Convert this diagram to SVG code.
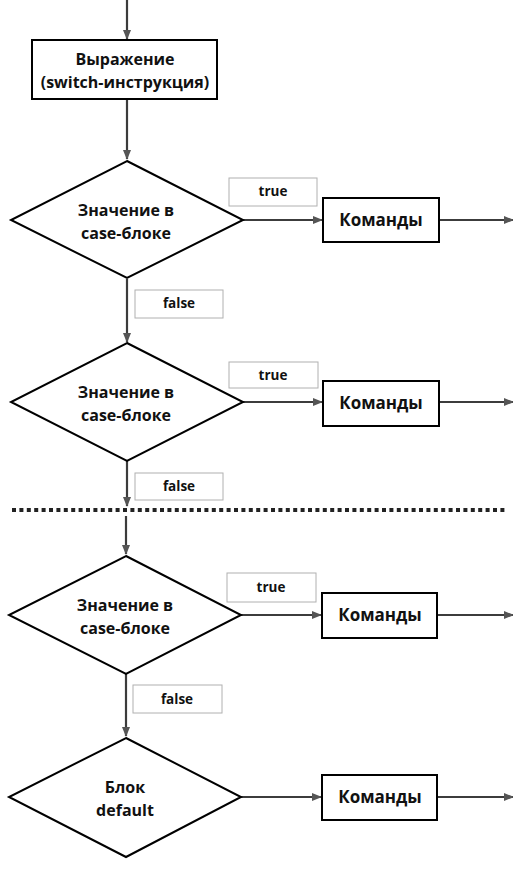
<svg xmlns="http://www.w3.org/2000/svg" width="513" height="886" viewBox="0 0 513 886">
<style>
.node{fill:#fff;stroke:#000;stroke-width:2}
.lbl{fill:#fff;stroke:#b0b0b0;stroke-width:1}
.t{font-family:"Open Sans","Liberation Sans",sans-serif;font-weight:bold;font-size:16px;fill:#111;text-anchor:middle}
.k{font-size:17px}
.s{font-family:"Open Sans","Liberation Sans",sans-serif;font-weight:bold;font-size:13.5px;fill:#111;text-anchor:middle}
.c{fill:none;stroke:#3c3c3c;stroke-width:2.2}
</style>
<defs>
<marker id="ah" markerWidth="10" markerHeight="8" refX="9" refY="4" orient="auto" markerUnits="userSpaceOnUse">
<path d="M0,0 L10,4 L0,8 Z" fill="#555"/>
</marker>
</defs>
<rect width="513" height="886" fill="#fff"/>
<g id="connectors">
<line class="c" x1="127" y1="0" x2="127" y2="39" marker-end="url(#ah)"/>
<line class="c" x1="127" y1="100" x2="127" y2="159" marker-end="url(#ah)"/>
<line class="c" x1="243" y1="220" x2="322" y2="220" marker-end="url(#ah)"/>
<line class="c" x1="439" y1="220" x2="513" y2="220" marker-end="url(#ah)"/>
<line class="c" x1="127" y1="279" x2="127" y2="342" marker-end="url(#ah)"/>
<line class="c" x1="243" y1="402" x2="322" y2="402" marker-end="url(#ah)"/>
<line class="c" x1="439" y1="402" x2="513" y2="402" marker-end="url(#ah)"/>
<line class="c" x1="127" y1="461" x2="127" y2="506" marker-end="url(#ah)"/>
<line x1="12" y1="510" x2="505" y2="510" stroke="#222" stroke-width="4" stroke-dasharray="4 3.4"/>
<line class="c" x1="126" y1="516" x2="126" y2="554" marker-end="url(#ah)"/>
<line class="c" x1="241" y1="615" x2="321" y2="615" marker-end="url(#ah)"/>
<line class="c" x1="437" y1="615" x2="513" y2="615" marker-end="url(#ah)"/>
<line class="c" x1="126" y1="674" x2="126" y2="736" marker-end="url(#ah)"/>
<line class="c" x1="241" y1="797" x2="321" y2="797" marker-end="url(#ah)"/>
<line class="c" x1="437" y1="797" x2="513" y2="797" marker-end="url(#ah)"/>
</g>
<g id="expr">
<rect class="node" x="32" y="40" width="185" height="59"/>
<text class="t" x="125" y="65">Выражение</text>
<text class="t" x="125" y="88">(switch-инструкция)</text>
</g>
<g id="case1">
<polygon class="node" points="127,161 243,220 127,278 11,220"/>
<text class="t" x="126" y="216">Значение в</text>
<text class="t" x="126" y="239">case-блоке</text>
</g>
<g id="true1"><rect class="lbl" x="229" y="178" width="88" height="28"/><text class="s" x="273" y="196">true</text></g>
<g id="cmd1"><rect class="node" x="323" y="198" width="116" height="44"/><text class="t k" x="381" y="226">Команды</text></g>
<g id="false1"><rect class="lbl" x="135" y="290" width="88" height="28"/><text class="s" x="179" y="308">false</text></g>
<g id="case2">
<polygon class="node" points="127,343 243,402 127,461 11,402"/>
<text class="t" x="126" y="398">Значение в</text>
<text class="t" x="126" y="421">case-блоке</text>
</g>
<g id="true2"><rect class="lbl" x="229" y="362" width="89" height="26"/><text class="s" x="273" y="380">true</text></g>
<g id="cmd2"><rect class="node" x="323" y="381" width="116" height="45"/><text class="t k" x="381" y="409">Команды</text></g>
<g id="false2"><rect class="lbl" x="135" y="473" width="88" height="27"/><text class="s" x="179" y="491">false</text></g>
<g id="case3">
<polygon class="node" points="126,556 241,615 126,674 9,615"/>
<text class="t" x="125" y="611">Значение в</text>
<text class="t" x="125" y="634">case-блоке</text>
</g>
<g id="true3"><rect class="lbl" x="227" y="573" width="89" height="29"/><text class="s" x="271" y="592">true</text></g>
<g id="cmd3"><rect class="node" x="322" y="593" width="115" height="45"/><text class="t k" x="380" y="621">Команды</text></g>
<g id="false3"><rect class="lbl" x="133" y="685" width="89" height="28"/><text class="s" x="177" y="704">false</text></g>
<g id="default">
<polygon class="node" points="126,738 241,797 126,857 9,797"/>
<text class="t" x="125" y="793">Блок</text>
<text class="t" x="125" y="816">default</text>
</g>
<g id="cmd4"><rect class="node" x="322" y="775" width="115" height="45"/><text class="t k" x="380" y="803">Команды</text></g>
</svg>
